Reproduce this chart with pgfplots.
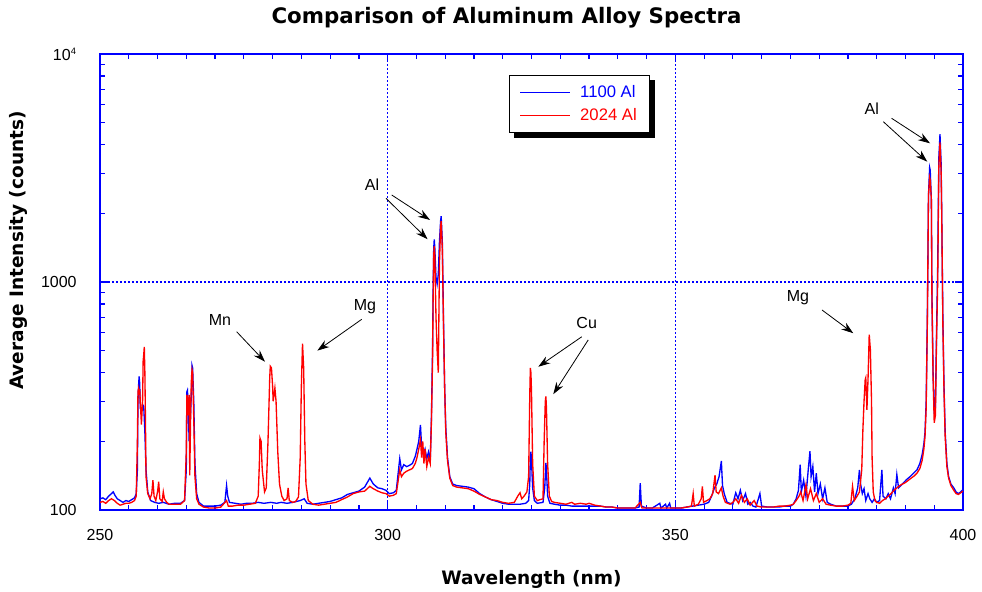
\documentclass[border=0pt]{standalone}
\usepackage{pgfplots}
\pgfplotsset{compat=1.18}
\usepackage{fontspec}
\setmainfont{Liberation Sans}
\newfontfamily\heavy{DejaVu Sans}
\usetikzlibrary{arrows.meta,backgrounds}

% Average emission intensity (counts) vs wavelength (nm)
\pgfplotstableread{
nm counts
250.0 112
250.5 113
251.0 111
251.5 115
252.0 118
252.3 120
252.6 116
253.0 112
253.5 110
254.0 108
254.5 110
255.0 109
255.5 111
256.0 113
256.3 118
256.5 150
256.6 300
256.7 350
256.8 385
256.9 360
257.0 280
257.2 270
257.4 290
257.6 285
257.8 220
258.0 150
258.3 120
258.8 110
259.5 108
260.2 107
261.0 108
262.0 106
263.0 107
264.0 107
264.7 110
265.0 150
265.1 330
265.2 335
265.3 300
265.5 200
265.7 250
265.9 330
266.0 430
266.1 420
266.3 300
266.5 160
266.8 118
267.2 108
268.0 104
269.0 104
270.0 104
271.0 105
271.7 108
272.0 128
272.2 115
272.5 108
273.5 107
274.5 106
275.5 107
276.5 107
277.5 108
278.5 107
279.7 108
280.7 107
281.5 108
282.5 107
283.5 108
284.8 110
285.5 112
286.0 107
287.0 106
288.0 107
289.0 108
290.0 109
291.0 111
292.0 113
293.0 117
294.0 119
295.0 121
296.0 126
296.9 138
297.5 130
298.3 125
299.0 124
299.7 122
300.3 118
301.0 119
301.5 122
302.1 168
302.4 150
302.8 158
303.3 155
303.8 157
304.3 160
304.8 172
305.1 185
305.4 200
305.7 236
305.9 190
306.2 175
306.5 185
306.8 168
307.1 180
307.4 165
307.6 250
307.8 500
307.9 900
308.0 1400
308.1 1538
308.2 1400
308.4 1050
308.6 980
308.8 1080
309.0 1500
309.2 1850
309.3 1946
309.5 1500
309.7 700
309.9 348
310.1 230
310.4 170
310.8 140
311.3 130
312.0 128
313.0 127
314.0 126
315.0 124
316.0 118
317.0 114
318.0 111
319.0 109
320.0 107
321.0 106
322.0 106
323.0 106
324.0 107
324.5 110
324.7 130
324.8 170
324.9 180
325.0 165
325.2 125
325.5 110
326.0 107
327.0 108
327.3 125
327.5 161
327.6 150
327.8 115
328.2 107
329.0 106
330.0 105
331.0 105
332.0 104
333.0 104
334.0 104
335.0 104
336.0 104
337.0 104
338.0 103
339.0 103
340.0 102
341.0 102
342.0 102
343.0 102
343.7 103
343.9 131
344.1 104
345.0 102
346.0 102
347.3 107
347.5 102
348.3 106
348.5 102
349.0 107
349.2 102
350.0 102
351.0 102
352.0 103
353.0 104
354.0 105
355.0 106
355.8 108
356.3 115
356.8 125
357.2 130
357.6 140
358.0 164
358.2 128
358.5 118
359.0 108
359.5 107
360.0 106
360.5 119
360.9 112
361.3 122
361.7 110
362.2 118
362.6 106
363.0 108
363.5 104
364.0 103
364.7 118
365.0 104
366.0 103
367.0 103
368.0 103
369.0 104
370.0 104
370.5 106
371.0 112
371.4 122
371.7 158
371.9 120
372.3 135
372.7 115
373.1 150
373.4 181
373.6 140
373.9 155
374.2 120
374.5 145
374.8 118
375.2 130
375.6 112
376.0 125
376.4 108
377.0 106
378.0 104
379.0 104
380.0 104
380.6 106
381.2 112
381.7 125
382.0 150
382.2 130
382.5 118
382.8 124
383.1 110
383.5 118
383.8 112
384.2 108
384.6 112
385.0 108
385.5 110
385.9 150
386.1 115
386.6 112
387.0 118
387.4 112
387.9 125
388.2 118
388.5 143
388.8 125
389.2 128
389.7 132
390.2 136
390.8 140
391.4 145
392.0 150
392.5 160
392.9 175
393.2 195
393.4 220
393.6 300
393.8 700
394.0 2400
394.2 3177
394.3 3100
394.5 2300
394.6 900
394.8 400
395.0 272
395.2 280
395.4 600
395.6 1174
395.8 3500
396.0 4449
396.2 3300
396.3 2000
396.5 700
396.7 350
396.9 220
397.2 160
397.5 140
397.9 130
398.4 125
398.8 120
399.2 118
399.6 120
400.0 123
}\alloyA

\pgfplotstableread{
nm counts
250.0 108
250.5 109
251.0 107
251.5 110
252.0 112
252.5 110
253.0 107
253.5 105
254.0 106
254.5 107
255.0 107
255.5 108
256.0 110
256.3 115
256.5 200
256.6 330
256.7 340
256.8 320
256.9 340
257.0 300
257.2 237
257.4 300
257.5 450
257.6 480
257.7 519
257.8 400
257.9 250
258.0 140
258.3 118
258.7 112
259.0 118
259.2 135
259.4 115
259.7 110
260.0 120
260.2 133
260.4 112
260.8 109
261.0 120
261.2 112
261.6 108
262.0 106
263.0 106
264.0 106
264.7 110
265.0 180
265.1 320
265.2 310
265.3 260
265.5 320
265.6 142
265.8 310
265.9 380
266.0 412
266.1 400
266.3 250
266.5 140
266.8 112
267.2 106
268.0 103
269.0 102
270.0 102
271.0 103
272.0 110
272.3 104
273.0 104
274.0 105
275.0 105
276.0 106
277.0 107
277.5 115
277.7 160
277.8 207
278.0 200
278.2 150
278.6 120
278.9 125
279.2 200
279.5 380
279.6 427
279.8 420
280.0 350
280.1 300
280.4 343
280.6 300
280.9 180
281.2 130
281.6 115
282.0 110
282.5 112
282.7 125
282.9 110
283.5 108
284.0 109
284.5 114
284.8 170
285.0 350
285.2 537
285.4 420
285.6 200
285.8 130
286.2 110
287.0 106
288.0 105
289.0 106
290.0 107
291.0 108
292.0 111
293.0 114
294.0 118
295.0 120
296.0 121
296.9 127
297.5 124
298.3 121
299.0 119
299.7 118
300.3 115
301.0 116
301.5 118
302.1 150
302.4 140
302.8 145
303.3 148
303.8 150
304.3 152
304.8 160
305.1 170
305.4 185
305.7 203
305.9 170
306.1 200
306.3 160
306.5 185
306.8 155
307.1 170
307.4 160
307.6 240
307.8 450
307.9 850
308.0 1300
308.1 1437
308.2 1300
308.4 700
308.6 500
308.8 400
309.0 1200
309.2 1750
309.3 1850
309.5 1400
309.7 650
309.9 348
310.1 220
310.4 165
310.8 138
311.3 128
312.0 126
313.0 125
314.0 124
315.0 121
316.0 117
317.0 114
318.0 111
319.0 110
320.0 108
321.0 107
322.0 108
322.7 116
323.0 119
323.3 112
323.7 115
324.2 120
324.5 140
324.7 320
324.8 420
324.9 400
325.0 330
325.2 160
325.5 115
326.0 110
327.0 112
327.2 200
327.4 300
327.5 315
327.6 280
327.8 160
328.1 115
328.5 109
329.0 108
330.0 107
331.0 106
332.0 108
332.5 106
333.5 107
334.5 106
335.0 107
336.0 105
337.0 104
338.0 103
339.0 103
340.0 102
341.0 102
342.0 102
343.0 102
343.9 108
344.2 102
345.0 102
346.0 102
347.0 102
348.0 102
349.0 102
350.0 102
351.0 102
352.0 103
352.8 104
353.1 118
353.3 104
354.0 106
354.5 112
354.7 127
354.9 108
355.5 110
356.0 112
356.5 118
356.9 142
357.1 120
357.5 118
358.0 125
358.3 115
358.7 108
359.5 106
360.0 108
360.5 112
361.0 107
361.5 116
362.0 108
362.5 112
363.0 105
363.7 110
364.2 104
365.0 103
366.0 103
367.0 103
368.0 104
369.0 104
370.0 105
370.5 106
371.0 110
371.5 115
371.8 120
372.2 110
372.7 129
373.0 112
373.5 124
374.0 110
374.5 118
375.0 108
375.6 112
376.2 106
377.0 105
378.0 104
379.0 104
380.0 105
380.5 107
380.8 127
381.1 110
381.5 114
382.0 120
382.4 150
382.6 225
382.8 300
383.0 373
383.1 380
383.3 275
383.5 380
383.7 588
383.9 505
384.1 300
384.2 169
384.4 120
384.7 110
385.0 108
385.5 107
386.0 110
386.5 112
387.0 115
387.5 118
388.0 122
388.5 125
389.0 128
389.5 130
390.0 132
390.5 135
391.0 138
391.5 141
392.0 145
392.5 152
392.9 165
393.2 185
393.4 210
393.6 280
393.8 650
394.0 2383
394.2 2871
394.3 2800
394.5 2300
394.6 850
394.8 380
395.0 241
395.2 260
395.4 550
395.6 995
395.8 3200
396.0 4093
396.2 3000
396.3 2000
396.5 650
396.7 330
396.9 210
397.2 155
397.5 138
397.9 128
398.4 122
398.8 118
399.2 117
399.6 119
400.0 121
}\alloyB

\begin{document}
\begin{tikzpicture}
\path[use as bounding box] (-75pt,-61.5pt) rectangle (661.5pt,382.5pt);
\begin{axis}[
  at={(0,0)}, anchor=south west,
  scale only axis, width=647.25pt, height=342pt,
  xmin=250, xmax=400, ymin=100, ymax=10000, ymode=log,
  axis line style={blue, line width=1.1pt},
  every tick/.style={blue, line width=0.9pt},
  tick align=inside,
  major tick length=6pt, minor tick length=3.8pt,
  xtick={250,300,350,400},
  xticklabels={250,300,350,400},
  minor xtick={255,260,...,395},
  ytick={100,1000,10000},
  yticklabels={100,1000,10\textsuperscript{\scriptsize 4}},
  minor ytick={200,300,400,500,600,700,800,900,2000,3000,4000,5000,6000,7000,8000,9000},
  tick label style={font=\fontsize{12}{12}\selectfont, black},
  xticklabel style={yshift=-11pt},
  yticklabel style={xshift=-14pt},
  legend style={name=lgd, at={(0.474,0.954)}, anchor=north west, draw=black,
    line width=0.75pt, fill=white,
    font=\fontsize{12.5}{13}\selectfont, inner xsep=7.5pt, inner ysep=5.5pt,
    row sep=2.5pt, cells={anchor=west},
    /tikz/every odd column/.append style={column sep=5pt}},
  legend image code/.code={\draw[#1] (0pt,0pt) -- (37.5pt,0pt);},
]
% dotted guide lines at the major ticks
\draw[blue, line width=1.2pt, dash pattern=on 1.5pt off 1.5pt]
  (axis cs:300,100) -- (axis cs:300,10000)
  (axis cs:350,100) -- (axis cs:350,10000)
  (axis cs:250,1000) -- (axis cs:400,1000);

\addplot[blue, line width=1pt] table[x=nm, y=counts] {\alloyA};
\addlegendentry{\textcolor{blue}{1100 Al}}
\addplot[red, line width=1pt] table[x=nm, y=counts] {\alloyB};
\addlegendentry{\textcolor{red}{2024 Al}}

% element labels with arrows to their emission lines
\tikzset{ann/.style={font=\fontsize{12}{12}\selectfont},
         pt/.style={-{Stealth[length=9pt,width=6pt]}, line width=0.6pt, black}}
\node[ann] at (axis cs:270.86,681) {Mn};
\draw[pt] (axis cs:273.76,605) -- (axis cs:278.68,447);
\node[ann] at (axis cs:296.06,779) {Mg};
\draw[pt] (axis cs:295.49,686) -- (axis cs:287.77,500);
\node[ann] at (axis cs:297.28,2663) {Al};
\draw[pt] (axis cs:300.70,2408) -- (axis cs:307.36,1871);
\draw[pt] (axis cs:299.71,2328) -- (axis cs:306.94,1540);
\node[ann] at (axis cs:334.59,659) {Cu};
\draw[pt] (axis cs:333.73,575) -- (axis cs:326.18,425);
\draw[pt] (axis cs:334.86,557) -- (axis cs:328.79,322);
\node[ann] at (axis cs:371.32,851) {Mg};
\draw[pt] (axis cs:375.49,754) -- (axis cs:380.93,596);
\node[ann] at (axis cs:384.13,5781) {Al};
\draw[pt] (axis cs:387.59,5224) -- (axis cs:394.27,4058);
\draw[pt] (axis cs:386.15,5047) -- (axis cs:393.79,3370);
\end{axis}

% solid shadow behind the legend box
\begin{pgfonlayer}{background}
\fill[black] ([xshift=3.75pt,yshift=-3.75pt]lgd.south west)
  rectangle ([xshift=3.75pt,yshift=-3.75pt]lgd.north east);
\end{pgfonlayer}

\node[font=\heavy\bfseries\fontsize{16}{16}\selectfont] at (304.9pt,369pt)
  {Comparison of Aluminum Alloy Spectra};
\node[font=\heavy\bfseries\fontsize{13.9}{14}\selectfont] at (323.6pt,-51.75pt)
  {Wavelength (nm)};
\node[font=\heavy\bfseries\fontsize{13.9}{14}\selectfont, rotate=90] at (-61.5pt,194.6pt)
  {Average Intensity (counts)};
\end{tikzpicture}
\end{document}
